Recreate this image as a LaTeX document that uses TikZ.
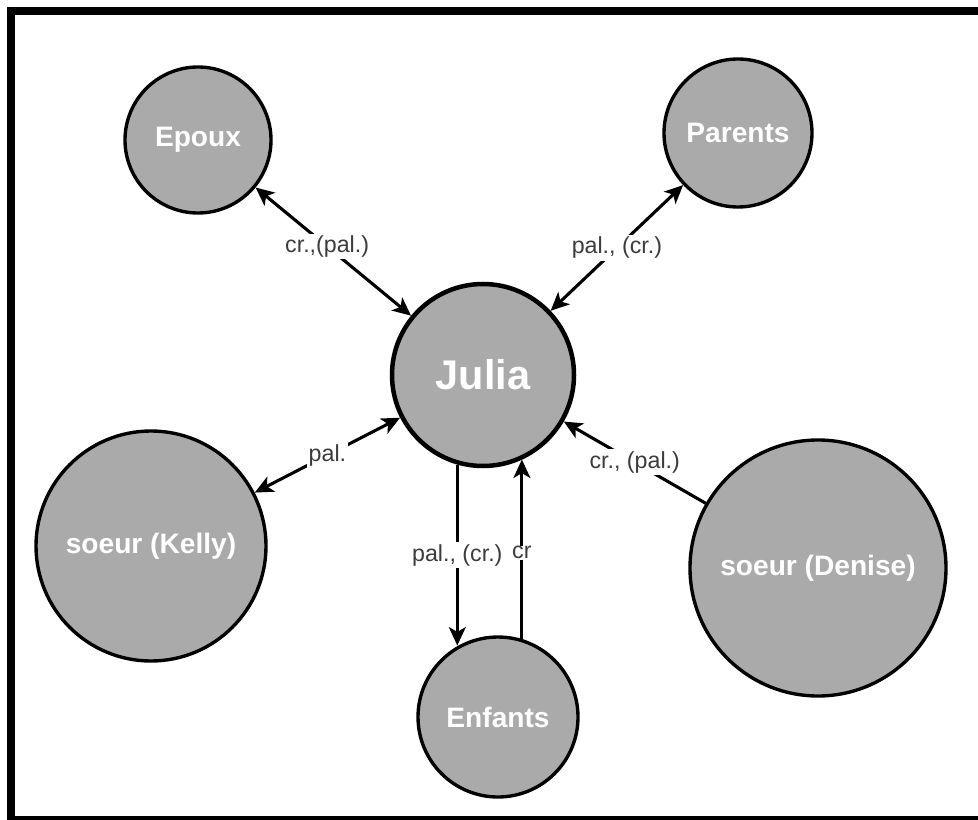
\documentclass[tikz,border=0pt]{standalone}
\usepackage{fontspec}
\setmainfont{Liberation Sans}
\usepackage{xcolor}
\usepackage{tikz}
\usetikzlibrary{arrows.meta,positioning}

\definecolor{nodegray}{RGB}{170,170,170}
\definecolor{lblgray}{RGB}{60,60,60}

\begin{document}
\begin{tikzpicture}[
  x=0.025cm, y=-0.025cm,
  person/.style={circle, draw=black, fill=nodegray, line width=2.4pt, inner sep=0pt,
    text=white, font=\fontsize{20}{24}\selectfont\bfseries},
  tip/.style={Stealth[length=0.46cm, width=0.42cm, inset=0.12cm]},
  arr/.style={-{Stealth[length=0.46cm, width=0.42cm, inset=0.12cm]}, line width=2.2pt},
  barr/.style={{Stealth[length=0.46cm, width=0.42cm, inset=0.12cm]}-{Stealth[length=0.46cm, width=0.42cm, inset=0.12cm]}, line width=2.2pt},
  lbl/.style={fill=white, inner sep=1.5pt, text=lblgray, font=\fontsize{16.5}{18}\selectfont}
]
\useasboundingbox (0,0) rectangle (978,820);
\draw[line width=5.7pt] (11,11) rectangle (982,820);

\node[person, minimum size=182*0.025cm, line width=3.2pt,
  font=\fontsize{29.5}{34}\selectfont\bfseries] (julia) at (483,375) {Julia};
\node[person, minimum size=146*0.025cm] (epoux) at (198,140) {Epoux};
\node[person, minimum size=148*0.025cm] (parents) at (738,133) {Parents};
\node[person, minimum size=230*0.025cm] (kelly) at (151,546) {soeur (Kelly)};
\node[person, minimum size=256*0.025cm] (denise) at (818,568) {soeur (Denise)};
\node[person, minimum size=160*0.025cm] (enfants) at (498,717) {Enfants};

\draw[barr] (epoux) -- node[lbl, pos=0.46] {cr.,(pal.)} (julia);
\draw[barr] (parents) -- node[lbl] {pal., (cr.)} (julia);
\draw[barr] (kelly) -- node[lbl] {pal.} (julia);
\draw[arr] (denise) -- node[lbl, pos=0.5] {cr., (pal.)} (julia);

\draw[arr] (julia.254) -- node[lbl] {pal., (cr.)} (julia.254 |- enfants.119);
\draw[arr] (enfants.73) -- node[lbl, inner sep=0.5pt, pos=0.48] {cr} (enfants.73 |- julia.295);
\end{tikzpicture}
\end{document}
